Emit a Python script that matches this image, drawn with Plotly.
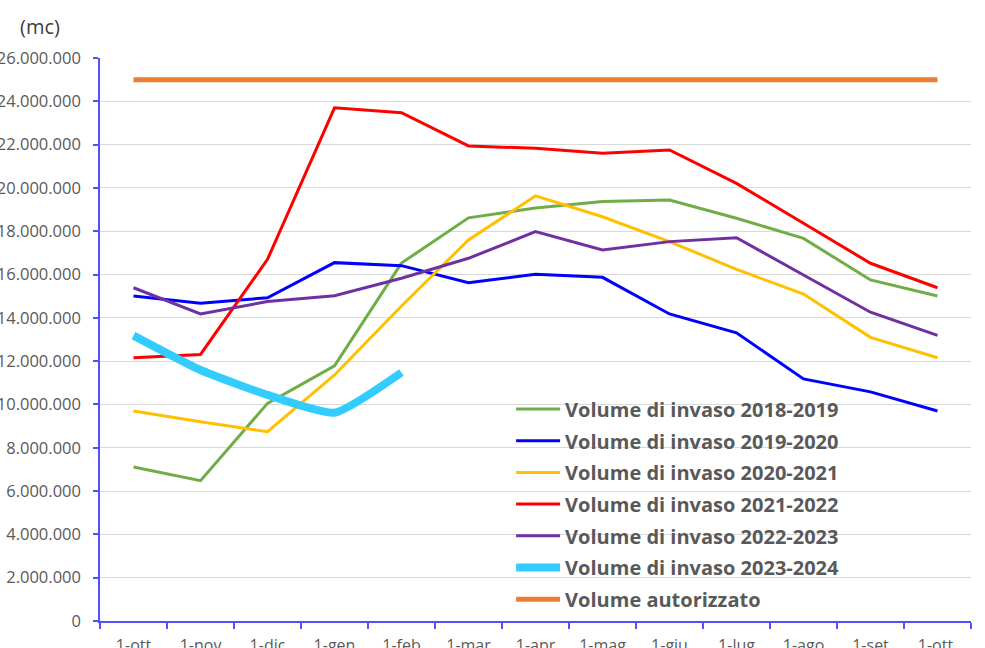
import plotly.graph_objects as go

months = ["1-ott", "1-nov", "1-dic", "1-gen", "1-feb", "1-mar", "1-apr",
          "1-mag", "1-giu", "1-lug", "1-ago", "1-set", "1-ott "]

v_2018_2019 = [7110000, 6480000, 10050000, 11780000, 16530000, 18620000, 19070000,
               19370000, 19440000, 18600000, 17670000, 15750000, 15010000]
v_2019_2020 = [15010000, 14670000, 14930000, 16550000, 16410000, 15620000, 16010000,
               15870000, 14180000, 13310000, 11180000, 10580000, 9700000]
v_2020_2021 = [9700000, 9200000, 8740000, 11360000, 14550000, 17600000, 19630000,
               18670000, 17520000, 16240000, 15100000, 13100000, 12160000]
v_2021_2022 = [12160000, 12310000, 16700000, 23700000, 23470000, 21940000, 21830000,
               21600000, 21750000, 20210000, 18370000, 16520000, 15390000]
v_2022_2023 = [15390000, 14180000, 14750000, 15020000, 15830000, 16750000, 17980000,
               17130000, 17520000, 17700000, 15980000, 14260000, 13190000]
v_2023_2024 = [13180000, 11590000, 10440000, 9620000, 11480000]
v_autorizzato = [25000000] * 13

y_ticks = list(range(0, 26000001, 2000000))

series = [
    ("Volume di invaso 2018-2019", v_2018_2019, "#70ad47", 3, "linear"),
    ("Volume di invaso 2019-2020", v_2019_2020, "#0000ff", 3, "linear"),
    ("Volume di invaso 2020-2021", v_2020_2021, "#ffc000", 3, "linear"),
    ("Volume di invaso 2021-2022", v_2021_2022, "#ff0000", 3, "linear"),
    ("Volume di invaso 2022-2023", v_2022_2023, "#7030a0", 3, "linear"),
    ("Volume di invaso 2023-2024", v_2023_2024, "#33ccff", 8, "spline"),
    ("Volume autorizzato", v_autorizzato, "#ed7d31", 5, "linear"),
]

fig = go.Figure()
for i, (name, vals, color, width, shape) in enumerate(series):
    line = dict(color=color, width=width, shape=shape)
    if shape == "spline":
        line["smoothing"] = 0.5
    fig.add_trace(go.Scatter(
        x=months[:len(vals)], y=vals, name=name, mode="lines",
        line=line, legendgroup=f"g{i}",
    ))

axis_blue = "#5050ff"
fig.update_layout(
    template="none",
    width=985, height=648,
    margin=dict(l=100, r=14, t=58, b=27, autoexpand=False),
    paper_bgcolor="white", plot_bgcolor="white",
    separators=",.",
    font=dict(family="Open Sans", color="#595959"),
    showlegend=True,
    legend=dict(
        x=0.472, y=0.411, xanchor="left", yanchor="top",
        bgcolor="rgba(0,0,0,0)", borderwidth=0,
        font=dict(family="Open Sans", size=20, color="#595959", weight="bold"),
        tracegroupgap=2.67, itemwidth=44,
        traceorder="grouped",
    ),
    xaxis=dict(
        type="category", categoryorder="array", categoryarray=months,
        range=[-0.5, 12.5], tickson="boundaries",
        showline=True, linecolor=axis_blue, linewidth=1.5,
        ticks="outside", ticklen=6, tickcolor=axis_blue, tickwidth=1.5,
        showgrid=False, zeroline=False, automargin=False,
        ticklabelstandoff=9,
        tickfont=dict(family="Open Sans", size=16, color="#595959"),
    ),
    yaxis=dict(
        range=[0, 26000000], tickvals=y_ticks, tickformat=",d",
        showline=True, linecolor=axis_blue, linewidth=1.5,
        ticks="outside", ticklen=5, tickcolor=axis_blue, tickwidth=1.5,
        showgrid=True, gridcolor="#d9d9d9", gridwidth=1,
        zeroline=False, automargin=False,
        ticklabelstandoff=9,
        tickfont=dict(family="Open Sans", size=16.5, color="#595959"),
    ),
    annotations=[dict(
        text="(mc)", xref="paper", yref="paper", x=-0.094, y=1.0,
        xanchor="left", yanchor="bottom", yshift=16, showarrow=False,
        font=dict(family="Open Sans", size=20, color="#404040"),
    )],
)

fig.write_html("out.html",
               config={"displayModeBar": False},
               post_script="document.body.style.margin='0';document.body.style.overflow='hidden';")
